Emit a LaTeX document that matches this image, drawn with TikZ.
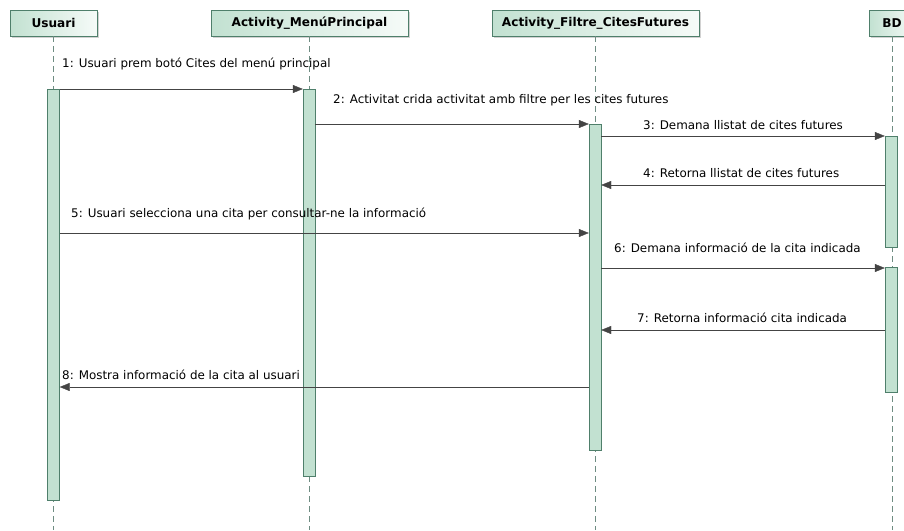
\documentclass[tikz,border=0pt]{standalone}
\usepackage{fontspec}
\setmainfont{DejaVu Sans}
\usetikzlibrary{arrows.meta,shadows}
\definecolor{boxline}{HTML}{4F7F6B}
\definecolor{boxfill}{HTML}{C2E1D1}
\definecolor{lifeline}{HTML}{6E8C82}
\definecolor{msgline}{HTML}{444444}

\begin{document}
\begin{tikzpicture}[x=1pt,y=-1pt,
  head/.style={draw=boxline,left color=boxfill,right color=boxfill!15,minimum height=26pt,inner sep=0pt,
    font=\fontsize{12.1}{14}\selectfont\bfseries,
    drop shadow={shadow xshift=2pt,shadow yshift=-2pt,fill=black!35}},
  act/.style={draw=boxline,fill=boxfill,minimum width=12pt,inner sep=0pt,anchor=north},
  life/.style={draw=lifeline,dash pattern=on 6pt off 4pt},
  msg/.style={draw=msgline,-{Triangle[length=10pt,width=8pt]}},
  lbl/.style={font=\fontsize{11.9}{14}\selectfont,inner sep=0pt,anchor=west}]
\useasboundingbox (0,0) rectangle (904,530);
\coordinate (bottom) at (0,530);

\node[head,minimum width=87pt] (usr) at (53.5,23) {Usuari};
\node[head,minimum width=197pt] (menu) at (309.5,23) {Activity\_MenúPrincipal};
\node[head,minimum width=207pt] (filt) at (595.5,23) {Activity\_Filtre\_CitesFutures};
\node[head,minimum width=46pt] (bd) at (892,23) {BD};

\draw[life] (usr.south) -- (usr.south |- bottom);
\draw[life] (menu.south) -- (menu.south |- bottom);
\draw[life] (filt.south) -- (filt.south |- bottom);
\draw[life] (bd.south) -- (bd.south |- bottom);

\node[act,minimum height=411pt] (usrA) at (53.5,89) {};
\node[act,minimum height=387pt] (menuA) at (309,89) {};
\node[act,minimum height=326pt] (filtA) at (595,124) {};
\node[act,minimum height=111pt] (bdA) at (891,136) {};
\node[act,minimum height=125pt] (bdB) at (891,267) {};

\coordinate (m1) at (0,89);
\coordinate (m2) at (0,124);
\coordinate (m3) at (0,136);
\coordinate (m4) at (0,185);
\coordinate (m5) at (0,233);
\coordinate (m6) at (0,268);
\coordinate (m7) at (0,330);
\coordinate (m8) at (0,387);

\draw[msg] (usrA.east |- m1) -- (menuA.west |- m1);
\draw[msg] (menuA.east |- m2) -- (filtA.west |- m2);
\draw[msg] (filtA.east |- m3) -- (bdA.west |- m3);
\draw[msg] (bdA.west |- m4) -- (filtA.east |- m4);
\draw[msg] (usrA.east |- m5) -- (filtA.west |- m5);
\draw[msg] (filtA.east |- m6) -- (bdB.west |- m6);
\draw[msg] (bdB.west |- m7) -- (filtA.east |- m7);
\draw[msg] (filtA.west |- m8) -- (usrA.east |- m8);

\node[lbl] (l1) at (62,64) {1: Usuari prem botó Cites del menú principal};
\node[lbl] (l2) at (333,100) {2: Activitat crida activitat amb filtre per les cites futures};
\node[lbl] (l3) at (643,125) {3: Demana llistat de cites futures};
\node[lbl] (l4) at (643,173) {4: Retorna llistat de cites futures};
\node[lbl] (l5) at (71,214) {5: Usuari selecciona una cita per consultar-ne la informació};
\node[lbl] (l6) at (614,248) {6: Demana informació de la cita indicada};
\node[lbl] (l7) at (637,318) {7: Retorna informació cita indicada};
\node[lbl] (l8) at (62,375) {8: Mostra informació de la cita al usuari};
\end{tikzpicture}
\end{document}
